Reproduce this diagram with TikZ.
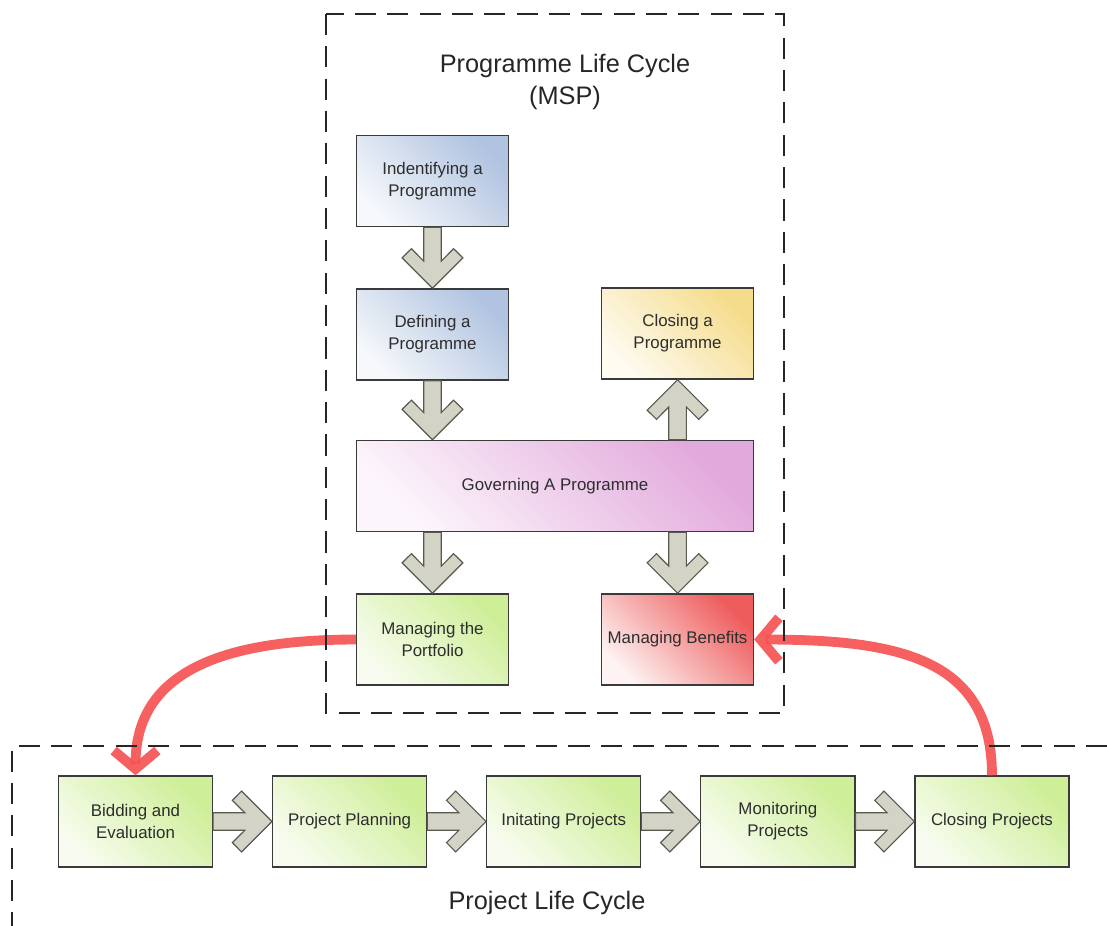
\documentclass[tikz,border=0pt]{standalone}
\usepackage{fontspec}
\setmainfont{Liberation Sans}
\usetikzlibrary{arrows.meta,calc,positioning}
\definecolor{progblue}{RGB}{176,195,224}
\definecolor{closeyel}{RGB}{245,220,140}
\definecolor{govpurple}{RGB}{226,170,220}
\definecolor{projgreen}{RGB}{206,238,152}
\definecolor{benred}{RGB}{238,92,92}
\definecolor{linkred}{RGB}{246,82,82}
\definecolor{chevfill}{RGB}{212,212,198}
\definecolor{chevline}{RGB}{88,88,80}
\definecolor{boxline}{RGB}{58,58,58}
\definecolor{inktext}{RGB}{45,45,45}

% block arrow with a chevron head, from #1 to #2
\newcommand{\fatarrow}[2]{%
  \coordinate (fa-s) at (#1);
  \coordinate (fa-t) at (#2);
  \coordinate (fa-j) at ($(fa-t)!0.68cm!(fa-s)$);
  \coordinate (fa-i) at ($(fa-t)!0.99cm!(fa-s)$);
  \coordinate (fa-o) at ($(fa-t)!0.76cm!(fa-s)$);
  \draw[chevron] ($(fa-s)!0.22cm!90:(fa-t)$) -- ($(fa-j)!0.22cm!90:(fa-t)$)
    -- ($(fa-i)!0.527cm!90:(fa-t)$) -- ($(fa-o)!0.76cm!90:(fa-t)$) -- (fa-t)
    -- ($(fa-o)!0.76cm!-90:(fa-t)$) -- ($(fa-i)!0.527cm!-90:(fa-t)$)
    -- ($(fa-j)!0.22cm!-90:(fa-t)$) -- ($(fa-s)!0.22cm!-90:(fa-t)$) -- cycle;
}

\begin{document}
\begin{tikzpicture}[x=0.025cm, y=-0.025cm, node distance=1.47cm,
  every node/.style={font=\fontsize{12}{15.5}\selectfont, text=inktext},
  stage/.style={draw=boxline, line width=0.9pt, align=center, minimum width=3.8cm, minimum height=2.28cm},
  bluestage/.style={stage, top color=progblue, middle color=progblue!75!white, bottom color=progblue!12!white, shading angle=-45},
  yelstage/.style={stage, top color=closeyel, middle color=closeyel!75!white, bottom color=closeyel!12!white, shading angle=-45},
  purplestage/.style={stage, top color=govpurple, middle color=govpurple!70!white, bottom color=govpurple!12!white, shading angle=-45},
  greenstage/.style={stage, top color=projgreen, middle color=projgreen!80!white, bottom color=projgreen!15!white, shading angle=-45},
  redstage/.style={stage, top color=benred, middle color=benred!70!white, bottom color=benred!8!white, shading angle=-45},
  chevron/.style={fill=chevfill, draw=chevline, line width=0.8pt, line join=miter},
  link/.style={draw=linkred, opacity=0.92, line width=7pt, -{Straight Barb[length=13pt,width=31pt]}},
  lifecycle/.style={draw=black!85, line width=2pt, dash pattern=on 15pt off 8pt},
  heading/.style={font=\fontsize{18}{23}\selectfont, text=black!85, align=center}]
  \useasboundingbox (0,0) rectangle (1107,926);

  % programme life cycle
  \node[bluestage] (ident) at (432.5,181) {Indentifying a\\Programme};
  \node[bluestage, below=1.525cm of ident] (defn) {Defining a\\Programme};
  \node[purplestage, minimum width=9.925cm, below=1.475cm of defn.south west, anchor=north west] (gov) {Governing A Programme};
  \node[yelstage, above=1.5cm of gov.north east, anchor=south east] (clsp) {Closing a\\Programme};
  \node[greenstage, below=1.525cm of gov.south west, anchor=north west] (port) {Managing the\\Portfolio};
  \node[redstage, below=1.525cm of gov.south east, anchor=north east] (bens) {Managing Benefits};

  % project life cycle
  \node[greenstage, minimum width=3.85cm] (bid) at (135.5,821.5) {Bidding and\\Evaluation};
  \node[greenstage, minimum width=3.85cm, right=of bid] (plan) {Project Planning};
  \node[greenstage, minimum width=3.85cm, right=of plan] (init) {Initating Projects};
  \node[greenstage, minimum width=3.85cm, right=of init] (mon) {Monitoring\\Projects};
  \node[greenstage, minimum width=3.85cm, right=of mon] (clsj) {Closing Projects};

  \fatarrow{ident.south}{defn.north}
  \fatarrow{defn.south}{defn.south |- gov.north}
  \fatarrow{gov.north -| clsp.south}{clsp.south}
  \fatarrow{gov.south -| port.north}{port.north}
  \fatarrow{gov.south -| bens.north}{bens.north}
  \fatarrow{bid.east}{plan.west}
  \fatarrow{plan.east}{init.west}
  \fatarrow{init.east}{mon.west}
  \fatarrow{mon.east}{clsj.west}

  \draw[link] (port.west) .. controls +(-140,0) and +(0,-100) .. (bid.north);
  \draw[link] (clsj.north) .. controls +(0,-116) and +(146,0) .. (bens.east);

  \draw[lifecycle] (326,14) rectangle (784,713);
  \draw[lifecycle] (1107,746) -- (12,746) -- (12,926);

  \node[heading] (ptitle) at (565,82) {Programme Life Cycle\\(MSP)};
  \node[heading] (jtitle) at (547,903) {Project Life Cycle};
\end{tikzpicture}
\end{document}
